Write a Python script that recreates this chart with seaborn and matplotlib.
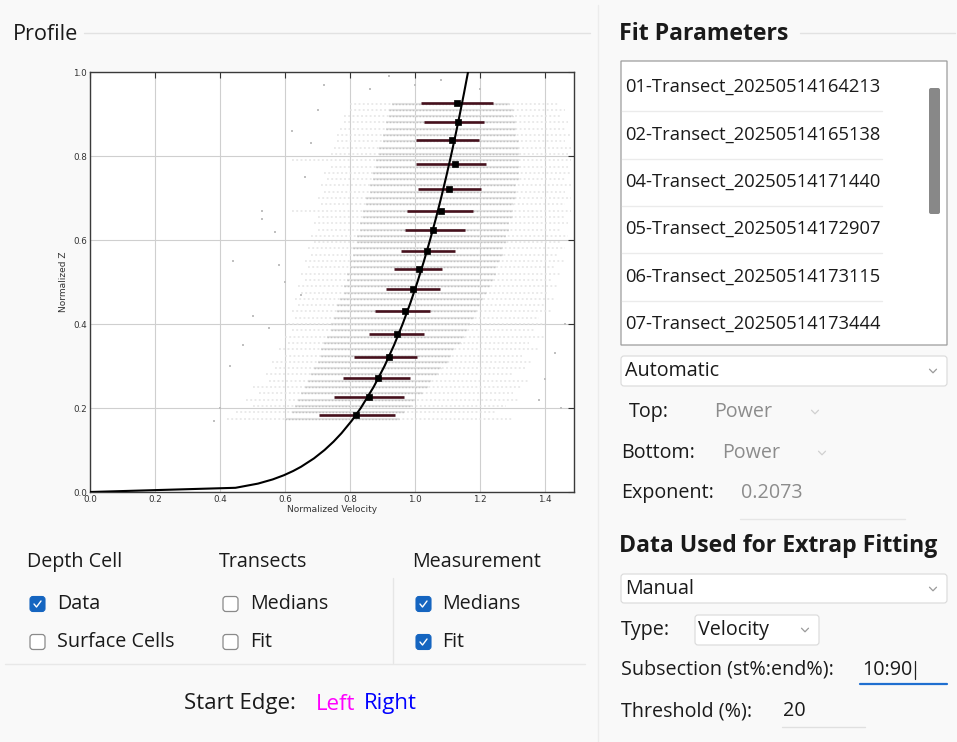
import numpy as np
import pandas as pd
import matplotlib
matplotlib.use("Agg")
import matplotlib.pyplot as plt
import seaborn as sns
from matplotlib.patches import Rectangle, FancyBboxPatch
from matplotlib.lines import Line2D

# ---------------- data ----------------
X_TICKS = [0.0, 0.2, 0.4, 0.6, 0.8, 1.0, 1.2, 1.4]
Y_TICKS = [0.0, 0.2, 0.4, 0.6, 0.8, 1.0]

# measurement medians with horizontal spread bars
MED_Z = [0.183, 0.227, 0.272, 0.321, 0.376, 0.431, 0.484, 0.530,
         0.575, 0.624, 0.670, 0.722, 0.780, 0.838, 0.882, 0.927]
MED_V = [0.818, 0.857, 0.885, 0.921, 0.945, 0.969, 0.993, 1.012,
         1.036, 1.054, 1.081, 1.103, 1.123, 1.113, 1.133, 1.128]
MED_LO = [0.703, 0.752, 0.779, 0.812, 0.857, 0.878, 0.911, 0.936,
          0.956, 0.970, 0.976, 1.009, 1.003, 1.003, 1.028, 1.017]
MED_HI = [0.939, 0.967, 0.983, 1.005, 1.028, 1.046, 1.077, 1.082,
          1.124, 1.153, 1.178, 1.203, 1.217, 1.197, 1.212, 1.239]

# power fit (exponent shown in panel)
FIT_EXPONENT = 0.2073
FIT_COEF = 1.163
FIT_Z = [0.0, 0.01, 0.02, 0.03, 0.04, 0.05, 0.06, 0.08, 0.10, 0.12, 0.14,
         0.17, 0.20, 0.25, 0.30, 0.35, 0.40, 0.45, 0.50, 0.55, 0.60, 0.65,
         0.70, 0.75, 0.80, 0.85, 0.90, 0.95, 1.0]

# depth-cell data cloud: rows of cells (z, dense span, faint span)
CLOUD_Z = [0.175, 0.190, 0.205, 0.220, 0.235, 0.250, 0.265, 0.280, 0.295,
           0.310, 0.325, 0.340, 0.355, 0.370, 0.385, 0.400, 0.415, 0.430,
           0.445, 0.460, 0.475, 0.490, 0.505, 0.520, 0.535, 0.550, 0.565,
           0.580, 0.595, 0.610, 0.625, 0.640, 0.655, 0.670, 0.685, 0.700,
           0.715, 0.730, 0.745, 0.760, 0.775, 0.790, 0.805, 0.820, 0.835,
           0.850, 0.865, 0.880, 0.895, 0.910, 0.925]
CORE_LO = [0.60, 0.62, 0.63, 0.64, 0.65, 0.66, 0.67, 0.68, 0.69, 0.70, 0.71,
           0.71, 0.72, 0.73, 0.74, 0.74, 0.75, 0.76, 0.76, 0.77, 0.78, 0.78,
           0.79, 0.79, 0.80, 0.80, 0.81, 0.81, 0.82, 0.82, 0.83, 0.83, 0.84,
           0.84, 0.85, 0.85, 0.86, 0.86, 0.87, 0.87, 0.88, 0.88, 0.89, 0.89,
           0.90, 0.90, 0.91, 0.91, 0.92, 0.92, 0.93]
CORE_HI = [0.95, 0.97, 0.99, 1.00, 1.02, 1.04, 1.05, 1.07, 1.08, 1.10, 1.11,
           1.12, 1.14, 1.15, 1.16, 1.17, 1.18, 1.19, 1.20, 1.21, 1.22, 1.23,
           1.24, 1.25, 1.25, 1.26, 1.27, 1.27, 1.28, 1.28, 1.29, 1.29, 1.30,
           1.30, 1.30, 1.31, 1.31, 1.31, 1.32, 1.32, 1.32, 1.32, 1.32, 1.32,
           1.32, 1.31, 1.31, 1.31, 1.30, 1.30, 1.29]
FAINT_LO = [0.42, 0.45, 0.50, 0.48, 0.52, 0.50, 0.55, 0.54, 0.57, 0.56, 0.60,
            0.58, 0.61, 0.60, 0.62, 0.61, 0.63, 0.62, 0.64, 0.63, 0.65, 0.64,
            0.66, 0.65, 0.67, 0.66, 0.68, 0.67, 0.69, 0.68, 0.70, 0.69, 0.70,
            0.62, 0.71, 0.70, 0.72, 0.71, 0.73, 0.72, 0.74, 0.62, 0.74, 0.75,
            0.76, 0.76, 0.77, 0.78, 0.78, 0.80, 0.80]
FAINT_HI = [1.30, 1.25, 1.28, 1.32, 1.30, 1.33, 1.35, 1.30, 1.34, 1.36, 1.33,
            1.38, 1.35, 1.40, 1.37, 1.40, 1.38, 1.42, 1.40, 1.43, 1.41, 1.44,
            1.42, 1.45, 1.43, 1.46, 1.44, 1.46, 1.45, 1.47, 1.45, 1.47, 1.46,
            1.48, 1.46, 1.48, 1.46, 1.48, 1.46, 1.48, 1.47, 1.48, 1.47, 1.48,
            1.46, 1.48, 1.46, 1.47, 1.45, 1.46, 1.44]

# isolated depth cells
STRAY_V = [0.53, 0.53, 0.44, 0.60, 0.58, 0.65, 0.50, 0.55, 0.47, 0.43, 0.70,
           0.62, 0.68, 0.57, 1.46, 1.43, 1.40, 1.45, 1.38, 0.66, 0.72, 0.86,
           1.00, 1.20, 0.40, 0.38, 0.92, 1.08]
STRAY_Z = [0.65, 0.67, 0.55, 0.50, 0.54, 0.47, 0.42, 0.39, 0.35, 0.30, 0.91,
           0.86, 0.83, 0.62, 0.40, 0.33, 0.27, 0.20, 0.22, 0.75, 0.97, 0.96,
           0.97, 0.96, 0.20, 0.17, 0.99, 0.98]

TRANSECTS = ["01-Transect_20250514164213", "02-Transect_20250514165138",
             "04-Transect_20250514171440", "05-Transect_20250514172907",
             "06-Transect_20250514173115", "07-Transect_20250514173444"]

# ---------------- figure ----------------
sns.set_theme(style="white")
plt.rcParams["font.family"] = ["Open Sans", "DejaVu Sans"]

W, H = 957, 742
fig = plt.figure(figsize=(W / 100, H / 100), dpi=100, facecolor="#f9f9f9")
ui = fig.add_axes([0, 0, 1, 1], zorder=0)
ui.set_xlim(0, W)
ui.set_ylim(H, 0)
ui.axis("off")

UI_FS = 14.2
LIST_FS = 13.2
HEAD_FS = 16.6
EDGE_FS = 16.0
TXT = "#1a1a1a"
GREY_TXT = "#8c8c8c"


def label(x, y, s, fs=UI_FS, color=TXT, weight="normal", ha="left"):
    ui.text(x, y, s, fontsize=fs, color=color, weight=weight, ha=ha, va="center")


def hline(x0, x1, y, color="#e2e2e2", lw=1.0):
    ui.add_line(Line2D([x0, x1], [y, y], color=color, lw=lw))


def vline(x, y0, y1, color="#e2e2e2", lw=1.0):
    ui.add_line(Line2D([x, x], [y0, y1], color=color, lw=lw))


def chevron(x, y, color="#9a9a9a"):
    ui.add_line(Line2D([x - 3.5, x, x + 3.5], [y - 1.8, y + 1.8, y - 1.8],
                       color=color, lw=0.9))


def box(x0, y0, x1, y1, fc="white", ec="#d9d9d9", lw=0.8, r=3):
    ui.add_patch(FancyBboxPatch((x0, y0), x1 - x0, y1 - y0,
                                boxstyle=f"round,pad=0,rounding_size={r}",
                                fc=fc, ec=ec, lw=lw))


def checkbox(x, y, checked):
    s = 15
    if checked:
        box(x, y - s / 2, x + s, y + s / 2, fc="#1565c0", ec="#1565c0", r=3)
        ui.add_line(Line2D([x + 4, x + 6.5, x + 11], [y, y + 3, y - 3],
                           color="white", lw=1.0))
    else:
        box(x, y - s / 2, x + s, y + s / 2, fc="white", ec="#8a8a8a", lw=0.9, r=3)


# ---- left panel ----
label(13, 34, "Profile", fs=15.6)
hline(84, 590, 33)
vline(598, 5, 742, color="#ececec")

label(27, 562, "Depth Cell")
label(219, 562, "Transects")
label(412, 562, "Measurement")
checkbox(30, 604, True)
label(57, 604, "Data")
checkbox(30, 642, False)
label(57, 642, "Surface Cells")
checkbox(223, 604, False)
label(250, 604, "Medians")
checkbox(223, 642, False)
label(250, 642, "Fit")
checkbox(416, 604, True)
label(442, 604, "Medians")
checkbox(416, 642, True)
label(442, 642, "Fit")
vline(393, 578, 663, color="#e6e6e6")
hline(5, 585, 664, color="#e8e8e8")

label(184, 704, "Start Edge:", fs=EDGE_FS)
label(316, 704, "Left", fs=EDGE_FS, color="#ff00ff")
label(364, 704, "Right", fs=EDGE_FS, color="#0000ff")

# ---- right panel ----
label(619, 34, "Fit Parameters", fs=HEAD_FS, weight="bold")
hline(800, 955, 33)
box(621, 61, 947, 345, fc="white", ec="#9c9c9c", lw=0.9, r=0)
item_y = [87, 135, 182, 229, 277, 324]
for i, (t, yy) in enumerate(zip(TRANSECTS, item_y)):
    label(625, yy, t, fs=LIST_FS)
    if i < len(TRANSECTS) - 1:
        hline(622, 882, yy + 24, color="#ebebeb")
box(929, 88, 940, 214, fc="#888888", ec="none", r=2)

box(621, 356, 947, 386)
label(625, 371, "Automatic")
chevron(933, 371)

label(629, 412, "Top:")
label(714, 412, "Power", color=GREY_TXT)
chevron(815, 412, color="#d0d0d0")
label(621, 453, "Bottom:")
label(722, 453, "Power", color=GREY_TXT)
chevron(822, 453, color="#d0d0d0")
label(621, 493, "Exponent:")
label(741, 493, "0.2073", color=GREY_TXT)
hline(740, 905, 519, color="#e6e6e6")

label(619, 546, "Data Used for Extrap Fitting", fs=HEAD_FS, weight="bold")
box(621, 574, 947, 603)
label(625, 589, "Manual")
chevron(933, 589)
label(621, 630, "Type:")
box(695, 615, 819, 645)
label(698, 630, "Velocity")
chevron(805, 630)
label(621, 670, "Subsection (st%:end%):")
label(862, 670, "10:90")
vline(915, 661, 679, color="#222222", lw=0.9)
hline(860, 947, 684, color="#1f6fd0", lw=1.6)
label(621, 711, "Threshold (%):")
label(783, 711, "20")
hline(782, 865, 727, color="#e0e0e0")

# ---------------- profile plot ----------------
ax = fig.add_axes([90 / W, 1 - 492 / H, 484 / W, 420 / H], zorder=2)
ax.set_facecolor("white")

for z, clo, chi, flo, fhi in zip(CLOUD_Z, CORE_LO, CORE_HI, FAINT_LO, FAINT_HI):
    ax.hlines(z, flo, fhi, color="#e4e4e4", lw=1.1, linestyles=(0, (1.2, 1.6)), zorder=1)
    ax.hlines(z, clo, chi, color="#e2e2e2", lw=1.5, zorder=1)
    ax.hlines(z, clo, chi, color="#c2c2c2", lw=1.0, linestyles=(0, (1.0, 1.4)), zorder=1)

sns.scatterplot(x=STRAY_V, y=STRAY_Z, marker="s", s=3, color="#c0c0c0",
                linewidth=0, ax=ax, zorder=1)

fit_u = FIT_COEF * np.power(np.array(FIT_Z), FIT_EXPONENT)
ax.hlines(MED_Z, MED_LO, MED_HI, color="#45101c", lw=1.9, zorder=3)
sns.lineplot(x=fit_u, y=FIT_Z, sort=False, estimator=None, color="black",
             lw=1.5, ax=ax, zorder=4)
sns.scatterplot(x=MED_V, y=MED_Z, marker="s", s=22, color="black",
                edgecolor="black", linewidth=0.5, ax=ax, zorder=5)

ax.set_xlim(0, 1.489)
ax.set_ylim(0, 1.0)
ax.set_xticks(X_TICKS)
ax.set_yticks(Y_TICKS)
ax.set_xticklabels([f"{v:.1f}" for v in X_TICKS])
ax.set_yticklabels([f"{v:.1f}" for v in Y_TICKS])
ax.grid(True, color="#cfcfcf", lw=0.8)
ax.set_axisbelow(True)
ax.tick_params(direction="in", length=4, width=0.8, top=True, right=True,
               labelsize=6.3, pad=2, colors="#333333")
for tl in ax.get_xticklabels() + ax.get_yticklabels():
    tl.set_fontfamily("DejaVu Sans")
for sp in ax.spines.values():
    sp.set_color("#3a3a3a")
    sp.set_linewidth(1.0)
ax.set_xlabel("Normalized Velocity", fontsize=6.5, family="DejaVu Sans",
              labelpad=1, color="#333333")
ax.set_ylabel("Normalized Z", fontsize=6.5, family="DejaVu Sans",
              labelpad=4, color="#333333")

fig.savefig("out.png", dpi=100, facecolor=fig.get_facecolor())
